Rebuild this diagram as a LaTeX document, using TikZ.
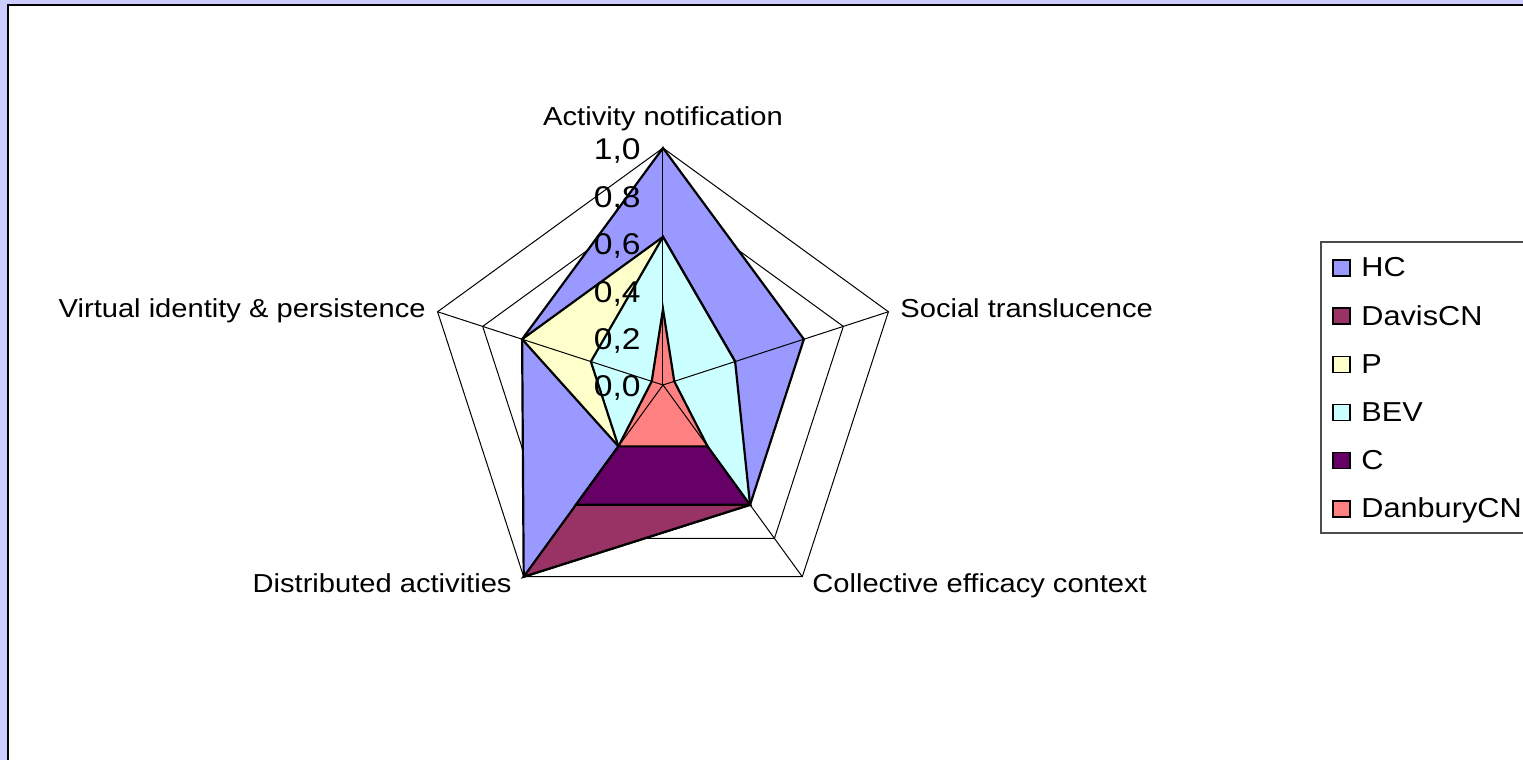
\documentclass[tikz,border=0pt]{standalone}
\usepackage{fontspec}
\setmainfont{Liberation Sans}[FakeStretch=1.12]
\usepackage{tikz}
\definecolor{hcblue}{HTML}{9999FF}
\definecolor{davisred}{HTML}{993366}
\definecolor{pyellow}{HTML}{FFFFCC}
\definecolor{bevcyan}{HTML}{CCFFFF}
\definecolor{cpurple}{HTML}{660066}
\definecolor{danburyred}{HTML}{FF8080}
\definecolor{chartbg}{HTML}{CCCCFF}
\tikzset{
		grid line/.style={black, line width=0.5pt},
		series/.style={draw=black, line width=1.1pt, line join=miter},
		axis label/.style={inner sep=0pt, font=\fontsize{13}{15}\selectfont},
		tick label/.style={inner sep=0pt, font=\fontsize{15}{17}\selectfont, anchor=base east},
		legend label/.style={inner sep=0pt, font=\fontsize{13.7}{16}\selectfont, anchor=base west},
		legend key/.style={draw=black, line width=0.7pt, minimum width=8.5pt, minimum height=8pt, inner sep=0pt}
	}
\newcommand{\rad}{237}
% one series of the radar, axes clockwise from the top
\newcommand{\radar}[6]{\draw[series, fill=#1] (90:#2*\rad) -- (18:#3*\rad) -- (-54:#4*\rad) -- (-126:#5*\rad) -- (162:#6*\rad) -- cycle;}

\begin{document}
\begin{tikzpicture}[x=0.5pt, y=0.5pt]
				\useasboundingbox (-663,-375) rectangle (860,385);
				\fill[chartbg] (-663,-375) rectangle (860,385);
				\draw[fill=white, line width=1pt] (-655,380) rectangle (900,-420);
				% rings
				\foreach \k in {0.2,0.4,0.6,0.8,1.0}
					\draw[grid line] (90:\k*\rad) -- (18:\k*\rad) -- (-54:\k*\rad) -- (-126:\k*\rad) -- (162:\k*\rad) -- cycle;
				% series
				\radar{hcblue}{1}{0.625}{0.625}{1}{0.625}
				\radar{davisred}{0}{0}{0.625}{1}{0}
				\radar{pyellow}{0.625}{0.32}{0.32}{0.32}{0.625}
				\radar{bevcyan}{0.625}{0.32}{0.625}{0.32}{0.32}
				\radar{cpurple}{0}{0}{0.625}{0.625}{0}
				\radar{danburyred}{0.32}{0.05}{0.32}{0.32}{0.05}
				% spokes
				\foreach \a in {90,18,-54,-126,162}
					\draw[grid line] (0,0) -- (\a:\rad);
				\foreach \k/\lab [count=\i] in {0/{0,0}, 0.2/{0,2}, 0.4/{0,4}, 0.6/{0,6}, 0.8/{0,8}, 1/{1,0}}
					\node[tick label] (tick\i) at (-22,{\k*\rad-12}) {\lab};
				\node[axis label, anchor=base] (actnote) at (0,259) {Activity notification};
				\node[axis label, anchor=base west] (socialtr) at (237,67) {Social translucence};
				\node[axis label, anchor=base west] (colleff) at (149,-208) {Collective efficacy context};
				\node[axis label, anchor=base east] (distact) at (-151,-208) {Distributed activities};
				\node[axis label, anchor=base east] (virtid) at (-237,67) {Virtual identity \& persistence};
				% legend
				\draw[line width=0.6pt, draw=black!70] (658,143) rectangle (900,-148);
				\foreach \nm/\col [count=\i from 0] in {HC/hcblue, DavisCN/davisred, P/pyellow, BEV/bevcyan, C/cpurple, DanburyCN/danburyred} {
					\node[legend key, fill=\col] (key\i) at (678.5,{117-48.2*\i}) {};
					\node[legend label] (name\i) at (698,{108-48.2*\i}) {\nm};
				}
			\end{tikzpicture}
\end{document}
